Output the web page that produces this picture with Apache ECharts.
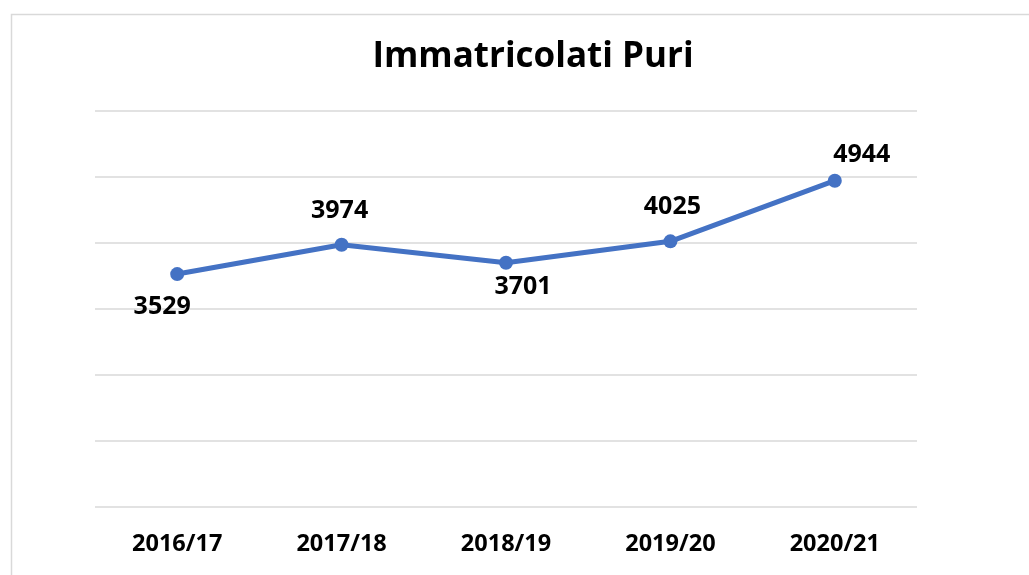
<!DOCTYPE html>
<html>
<head>
<meta charset="utf-8">
<script src="https://cdn.jsdelivr.net/npm/echarts@6/dist/echarts.min.js"></script>
<style>
html,body{margin:0;padding:0;background:#fff;}
#c{width:1029px;height:575px;}
</style>
</head>
<body>
<div id="c"></div>
<script>
const categories = ['2016/17', '2017/18', '2018/19', '2019/20', '2020/21'];
const values = [3529, 3974, 3701, 4025, 4944];
const yTicks = [0, 1000, 2000, 3000, 4000, 5000, 6000];
const titleText = 'Immatricolati Puri';

// label placement relative to each point (style, not data)
const labelShift = [[-15, 33], [-2, -34], [17, 24], [2, -34], [27, -26]];

const font = '"Open Sans", "Noto Sans", sans-serif';
const chart = echarts.init(document.getElementById('c'));
chart.setOption({
  animation: false,
  backgroundColor: '#fff',
  graphic: [{
    type: 'rect', left: 9, top: 12, z: -1,
    shape: { width: 1100, height: 700 },
    style: { fill: 'none', stroke: '#d9d9d9', lineWidth: 1.5 }
  }],
  title: {
    text: titleText,
    left: 528, top: 35, textAlign: 'center',
    textStyle: { fontFamily: font, fontWeight: 'bold', fontSize: 35, color: '#000' }
  },
  grid: { left: 95, right: 112, top: 111, bottom: 68 },
  xAxis: {
    type: 'category',
    data: categories,
    boundaryGap: true,
    axisLine: { show: false },
    axisTick: { show: false },
    axisLabel: { margin: 25, fontFamily: font, fontWeight: 'bold', fontSize: 23.5, color: '#000' }
  },
  yAxis: {
    type: 'value',
    min: yTicks[0], max: yTicks[yTicks.length - 1], interval: 1000,
    axisLabel: { show: false },
    axisLine: { show: false },
    axisTick: { show: false },
    splitLine: { lineStyle: { color: '#d9d9d9', width: 1.5 } }
  },
  series: [{
    type: 'line',
    data: values.map((v, i) => ({
      value: v,
      label: { offset: labelShift[i] }
    })),
    symbol: 'circle',
    symbolSize: 14,
    lineStyle: { color: '#4472C4', width: 5 },
    itemStyle: { color: '#4472C4' },
    label: {
      show: true, position: 'inside',
      fontFamily: font, fontWeight: 'bold', fontSize: 25, color: '#000'
    }
  }]
});
</script>
</body>
</html>
